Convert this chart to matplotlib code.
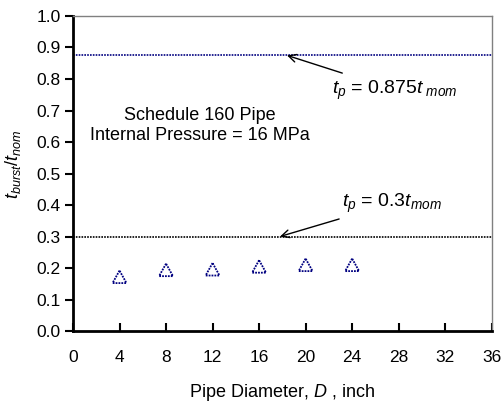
import matplotlib
matplotlib.use("Agg")
import matplotlib.pyplot as plt
import numpy as np

plt.rcParams['font.family'] = ['Liberation Sans', 'DejaVu Sans']
plt.rcParams['mathtext.fontset'] = 'custom'
plt.rcParams['mathtext.rm'] = 'Liberation Sans'
plt.rcParams['mathtext.it'] = 'Liberation Sans:italic'
plt.rcParams['mathtext.bf'] = 'Liberation Sans:bold'

# Data
diameters = [4, 8, 12, 16, 20, 24]
ratios = [0.172, 0.194, 0.196, 0.205, 0.21, 0.21]
line_upper = 0.875
line_lower = 0.3
x_ticks = list(range(0, 37, 4))
y_ticks = [round(0.1 * i, 1) for i in range(11)]

fig = plt.figure(figsize=(5.02, 4.07), dpi=100)
ax = fig.add_axes([0.1454, 0.1867, 0.9795 - 0.1454, 0.9607 - 0.1867])

ax.axhline(line_upper, color='#000080', lw=1.2, ls=(0, (1.0, 0.7)))
ax.axhline(line_lower, color='black', lw=1.2, ls=(0, (1.0, 0.7)))

tri = [(0, 0.9), (-1, -0.9), (1, -0.9), (0, 0.9)]
ax.scatter(diameters, ratios, marker=tri, s=100, facecolors='none',
           edgecolors='#000080', linewidths=1.3, linestyles=(0, (1.0, 0.6)), zorder=3)

ax.set_xlim(0, 36)
ax.set_ylim(0, 1.0)
ax.set_xticks(x_ticks)
ax.set_yticks(y_ticks)
ax.set_yticklabels([f"{v:.1f}" for v in y_ticks])

ax.tick_params(axis='x', direction='in', length=6, width=1.5, labelsize=12.5, pad=14)
ax.tick_params(axis='y', direction='out', length=6, width=1.5, labelsize=12.5, pad=3)

for s in ['left', 'bottom']:
    ax.spines[s].set_linewidth(2)
    ax.spines[s].set_color('black')
for s in ['top', 'right']:
    ax.spines[s].set_linewidth(1)
    ax.spines[s].set_color('#808080')

ax.set_xlabel(r"Pipe Diameter, $D$ , inch", fontsize=13, labelpad=12)
ax.set_ylabel(r"$t_{burst}/t_{nom}$", fontsize=13)
ax.yaxis.set_label_coords(-0.12, 0.53)

ax.text(10.9, 0.685, "Schedule 160 Pipe", ha='center', va='center', fontsize=13)
ax.text(10.9, 0.62, "Internal Pressure = 16 MPa", ha='center', va='center', fontsize=13)

ax.annotate(r"$t_p$ = 0.875$t_{\ mom}$", xy=(18.4, 0.875), xytext=(22.3, 0.765),
            fontsize=14, ha='left', va='center',
            arrowprops=dict(arrowstyle='->', color='black', lw=1,
                            shrinkA=6, shrinkB=0))
ax.annotate(r"$t_p$ = 0.3$t_{mom}$", xy=(17.8, 0.3), xytext=(23.1, 0.405),
            fontsize=14, ha='left', va='center',
            arrowprops=dict(arrowstyle='->', color='black', lw=1,
                            shrinkA=3, shrinkB=0))

fig.savefig("out.png", dpi=100)
